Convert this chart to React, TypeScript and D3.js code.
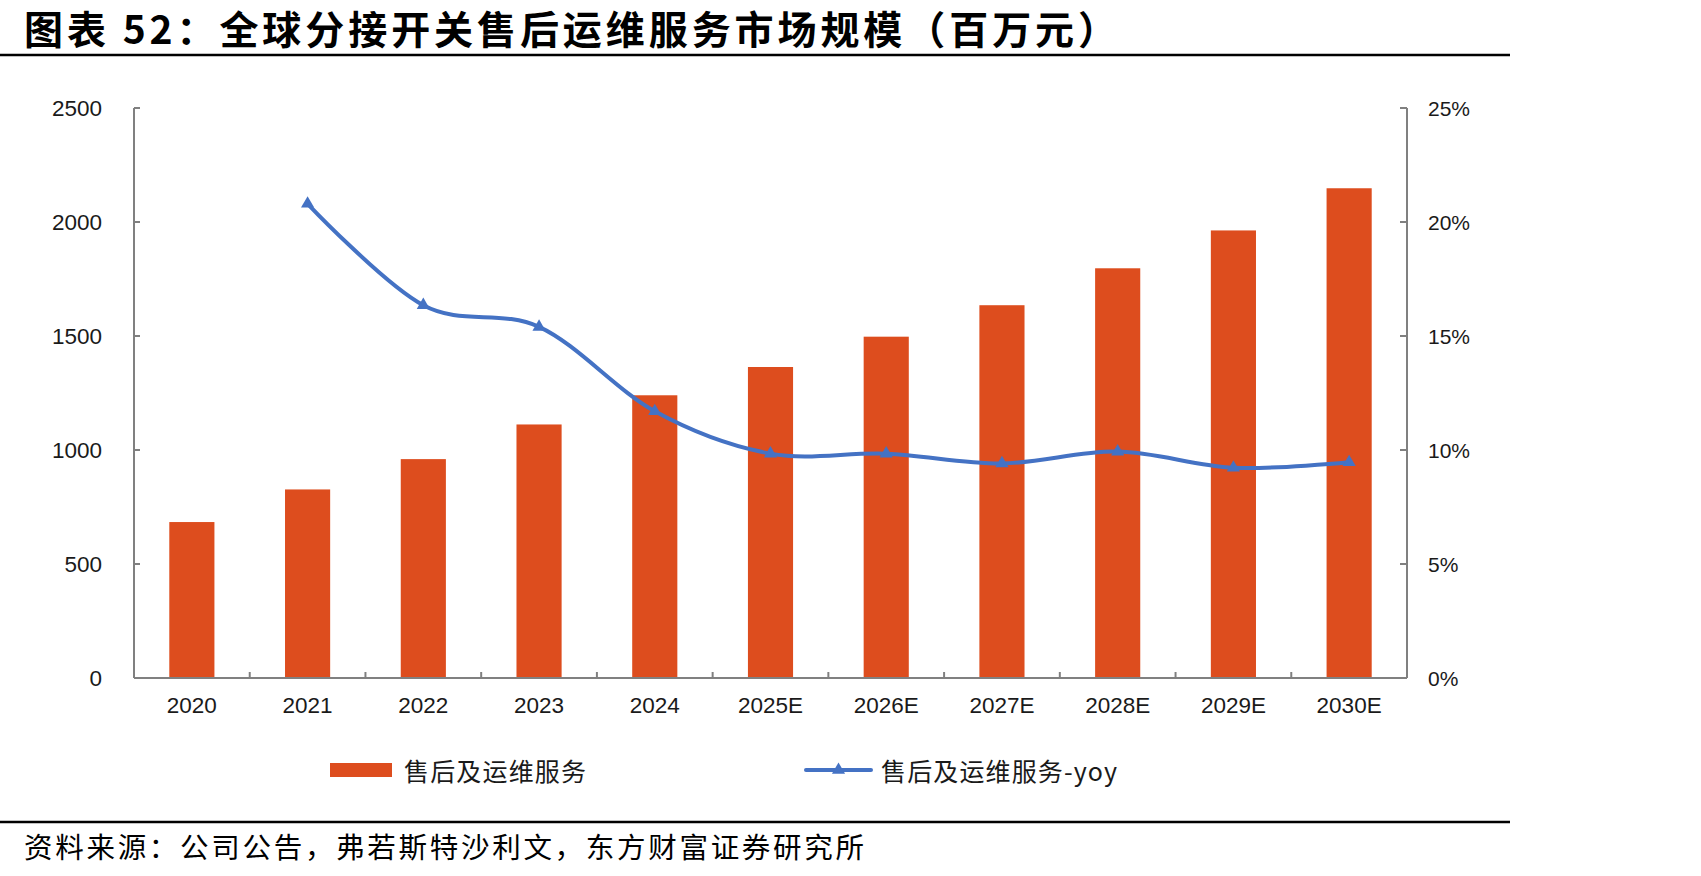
import React from "react";
import * as d3 from "d3";

// Market size (million yuan) and year-over-year growth (%)
const categories = ["2020", "2021", "2022", "2023", "2024", "2025E", "2026E", "2027E", "2028E", "2029E", "2030E"];
const revenue = [684, 827, 960, 1112, 1240, 1364, 1497, 1635, 1797, 1963, 2148];
const yoy: (number | null)[] = [null, 20.8, 16.35, 15.4, 11.7, 9.84, 9.84, 9.41, 9.93, 9.22, 9.46];
const leftTicks = [0, 500, 1000, 1500, 2000, 2500];
const rightTicks = [0, 5, 10, 15, 20, 25];

const titleText = "图表 52：全球分接开关售后运维服务市场规模（百万元）";
const sourceText = "资料来源：公司公告，弗若斯特沙利文，东方财富证券研究所";
const barLabel = "售后及运维服务";
const lineLabel = "售后及运维服务-yoy";

const W = 1701;
const H = 876;
const plot = { left: 134, right: 1407, top: 108, bottom: 678 };
const BAR = "#DD4D1E";
const LINE = "#4472C4";
const AXIS = "#808080";
const NUM_FONT = "'Liberation Sans', Arial, sans-serif";
const CJK_FONT = "'Noto Sans CJK SC', 'Noto Sans', sans-serif";

export default function App() {
  const x = d3.scaleBand<string>().domain(categories).range([plot.left, plot.right]).paddingInner(0).paddingOuter(0);
  const yL = d3.scaleLinear().domain([0, 2500]).range([plot.bottom, plot.top]);
  const yR = d3.scaleLinear().domain([0, 25]).range([plot.bottom, plot.top]);
  const bw = x.bandwidth() * 0.39;

  const pts = categories
    .map((c, i) => ({ c, v: yoy[i] }))
    .filter((d) => d.v !== null) as { c: string; v: number }[];
  const line = d3
    .line<{ c: string; v: number }>()
    .x((d) => (x(d.c) as number) + x.bandwidth() / 2)
    .y((d) => yR(d.v))
    .curve(d3.curveCardinal.tension(0));

  const tri = d3.symbol().type(d3.symbolTriangle).size(75)() as string;

  const legendY = 770;

  return (
    <svg width={W} height={H} style={{ position: "absolute", left: 0, top: 0, background: "#fff" }}>
      <rect width={W} height={H} fill="#fff" />
      {/* Title */}
      <text x={24} y={27} dominantBaseline="central" fontFamily={CJK_FONT} fontWeight={700} fontSize={39} textLength={1093} lengthAdjust="spacing" fill="#000">
        {titleText}
      </text>
      <line x1={0} x2={1510} y1={55} y2={55} stroke="#000" strokeWidth={2.5} />

      {/* Bars */}
      {categories.map((c, i) => (
        <rect
          key={c}
          x={(x(c) as number) + (x.bandwidth() - bw) / 2}
          y={yL(revenue[i])}
          width={bw}
          height={plot.bottom - yL(revenue[i])}
          fill={BAR}
        />
      ))}

      {/* Axes */}
      <line x1={plot.left} x2={plot.left} y1={plot.top} y2={plot.bottom} stroke={AXIS} strokeWidth={2} />
      <line x1={plot.right} x2={plot.right} y1={plot.top} y2={plot.bottom} stroke={AXIS} strokeWidth={2} />
      <line x1={plot.left} x2={plot.right} y1={plot.bottom} y2={plot.bottom} stroke={AXIS} strokeWidth={2} />
      {leftTicks.map((t) => (
        <g key={"l" + t}>
          <line x1={plot.left} x2={plot.left + 6} y1={yL(t)} y2={yL(t)} stroke={AXIS} strokeWidth={2} />
          <text x={102} y={yL(t)} textAnchor="end" dominantBaseline="central" fontFamily={NUM_FONT} fontSize={22.5} fill="#1a1a1a">
            {t}
          </text>
        </g>
      ))}
      {rightTicks.map((t) => (
        <g key={"r" + t}>
          <line x1={plot.right - 7} x2={plot.right} y1={yR(t)} y2={yR(t)} stroke={AXIS} strokeWidth={2} />
          <text x={1428} y={yR(t)} dominantBaseline="central" fontFamily={NUM_FONT} fontSize={21} fill="#1a1a1a">
            {t}%
          </text>
        </g>
      ))}
      {categories.slice(1).map((c) => (
        <line key={"xt" + c} x1={x(c) as number} x2={x(c) as number} y1={plot.bottom - 6} y2={plot.bottom} stroke={AXIS} strokeWidth={2} />
      ))}
      {categories.map((c) => (
        <text
          key={"xl" + c}
          x={(x(c) as number) + x.bandwidth() / 2}
          y={705}
          textAnchor="middle"
          dominantBaseline="central"
          fontFamily={NUM_FONT}
          fontSize={22.5}
          fill="#1a1a1a"
        >
          {c}
        </text>
      ))}

      {/* YoY line */}
      <path d={line(pts) as string} fill="none" stroke={LINE} strokeWidth={4} />
      {pts.map((d) => (
        <path
          key={"m" + d.c}
          d={tri}
          transform={`translate(${(x(d.c) as number) + x.bandwidth() / 2},${yR(d.v)})`}
          fill={LINE}
        />
      ))}

      {/* Legend */}
      <rect x={330} y={legendY - 7} width={62} height={14} fill={BAR} />
      <text x={404} y={legendY} dominantBaseline="central" fontFamily={CJK_FONT} fontSize={25} textLength={182} lengthAdjust="spacing" fill="#1a1a1a">
        {barLabel}
      </text>
      <line x1={806} x2={871} y1={legendY} y2={legendY} stroke={LINE} strokeWidth={4} strokeLinecap="round" />
      <path d={tri} transform={`translate(838.5,${legendY})`} fill={LINE} />
      <text x={881} y={legendY} dominantBaseline="central" fontFamily={CJK_FONT} fontSize={25} textLength={236} lengthAdjust="spacing" fill="#1a1a1a">
        {lineLabel}
      </text>

      {/* Source */}
      <line x1={0} x2={1510} y1={822} y2={822} stroke="#000" strokeWidth={2.5} />
      <text x={24} y={845} dominantBaseline="central" fontFamily={CJK_FONT} fontSize={28.5} textLength={840} lengthAdjust="spacing" fill="#000">
        {sourceText}
      </text>
    </svg>
  );
}
